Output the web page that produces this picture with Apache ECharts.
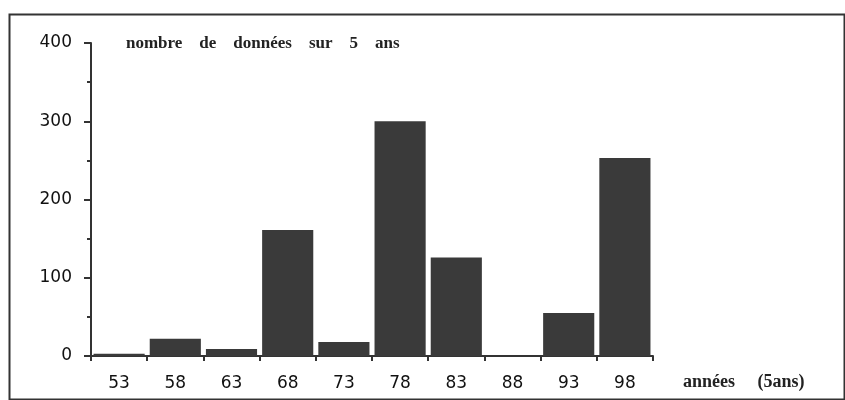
<!DOCTYPE html>
<html><head><meta charset="utf-8">
<script src="https://cdn.jsdelivr.net/npm/echarts@6/dist/echarts.min.js"></script>
<style>html,body{margin:0;padding:0;background:#fff}#c{width:845px;height:400px}</style>
</head><body><div id="c"></div>
<script>
const categories = ['53','58','63','68','73','78','83','88','93','98'];
const values = [3, 22, 9, 161, 18, 300, 126, 0, 55, 253];
const yTicks = [0, 100, 200, 300, 400];
const titleText = 'nombre    de    données    sur    5    ans';
const xName = 'années     (5ans)';

const chart = echarts.init(document.getElementById('c'), null, {renderer:'canvas'});
chart.setOption({
  animation: false,
  backgroundColor: '#fff',
  title: {
    text: titleText, left: 121, top: 30,
    textStyle: {fontFamily: 'Liberation Serif', fontWeight: 'bold', fontSize: 17, color: '#222'}
  },
  graphic: [{
    type: 'rect', left: 7, top: 12, shape: {width: 835, height: 385},
    style: {fill: 'none', stroke: '#333', lineWidth: 2}, silent: true
  }],
  grid: {left: 91, right: 192, top: 43, bottom: 44, containLabel: false},
  xAxis: {
    type: 'category', data: categories, boundaryGap: true,
    name: xName, nameLocation: 'end', nameGap: 30,
    nameTextStyle: {fontFamily: 'Liberation Serif', fontWeight: 'bold', fontSize: 18, color: '#222', verticalAlign: 'top', padding: [17, 0, 0, 0]},
    axisLine: {lineStyle: {color: '#333', width: 2}},
    axisTick: {show: true, inside: false, length: 5, lineStyle: {color: '#333', width: 2}},
    axisLabel: {margin: 19, fontFamily: 'DejaVu Sans', fontSize: 17, color: '#111'},
    splitLine: {show: false}
  },
  yAxis: {
    type: 'value', min: 0, max: 400, interval: 100,
    axisLine: {show: true, lineStyle: {color: '#333', width: 2}},
    axisTick: {show: true, inside: false, length: 7, lineStyle: {color: '#333', width: 2}},
    minorTick: {show: true, splitNumber: 2, length: 4, lineStyle: {color: '#333', width: 2}},
    axisLabel: {margin: 19, fontFamily: 'DejaVu Sans', fontSize: 17, color: '#111',
      formatter: v => yTicks.includes(v) ? String(v) : ''},
    splitLine: {show: false}
  },
  series: [{
    type: 'bar', data: values, barCategoryGap: '9%',
    itemStyle: {color: '#3a3a3a'}
  }]
});
</script></body></html>
